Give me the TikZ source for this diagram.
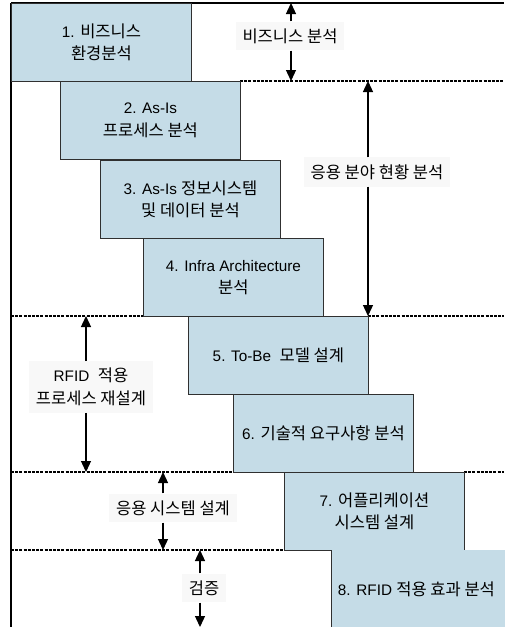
\documentclass[tikz,border=0pt]{standalone}
\usepackage{fontspec}
\setmainfont{Liberation Sans}
\newfontfamily\kr[Scale=1.08]{Noto Sans CJK KR}
\usetikzlibrary{arrows.meta}
\definecolor{stageblue}{HTML}{C5DCE7}
\definecolor{stageline}{HTML}{303030}
\definecolor{labelbg}{HTML}{F8F8F8}

\begin{document}
\begin{tikzpicture}[x=1pt, y=-1pt,
    stagebox/.style={draw=stageline, fill=stageblue, line width=0.9pt,
      minimum width=180pt, minimum height=78pt, inner sep=0pt,
      anchor=north west, align=center, font=\fontsize{15.3}{22.5}\selectfont},
    phaselabel/.style={fill=labelbg, inner xsep=7pt, inner ysep=7pt,
      align=center, font=\fontsize{15.3}{22.5}\selectfont},
    phasearrow/.style={-{Triangle[length=11pt, width=10pt]}, line width=1.3pt},
    sepline/.style={line width=1.3pt, dash pattern=on 3pt off 1.2pt}
]
  \useasboundingbox (0,0) rectangle (504,627);

  % Rahmen
  \coordinate (frameTL) at (11,3);
  \coordinate (frameTR) at (504,3);
  \coordinate (frameBL) at (11,627);
  \coordinate (frameR) at (504,0);

  % Phasengrenzen (gestrichelt)
  \draw[sepline] (240,81) -- (frameR |- 0,81);
  \draw[sepline] (frameTL |- 0,316) -- (143,316);
  \draw[sepline] (368,316) -- (frameR |- 0,316);
  \draw[sepline] (frameTL |- 0,472) -- (233,472);
  \draw[sepline] (464,472) -- (frameR |- 0,472);
  \draw[sepline] (frameTL |- 0,550) -- (284,550);
  \draw[sepline, gray!60, line width=0.8pt] (464,550) -- (frameR |- 0,550);

  \draw[line width=1.6pt] (frameTL) -- (frameTR);
  \draw[line width=1.6pt] (frameTL) -- (frameBL);

  % Arbeitsschritte
  \node[stagebox] (b1) at (11,3)    {1. {\kr 비즈니스}\\{\kr 환경분석}};
  \node[stagebox] (b2) at (60,81)   {2. As-Is\\{\kr 프로세스 분석}};
  \node[stagebox] (b3) at (100,160) {3. As-Is {\kr 정보시스템}\\{\kr 및 데이터 분석}};
  \node[stagebox] (b4) at (143,238) {4. Infra Architecture\\{\kr 분석}};
  \node[stagebox] (b5) at (188,316) {5. To-Be\ \ {\kr 모델 설계}};
  \node[stagebox] (b6) at (233,394) {6. {\kr 기술적 요구사항 분석}};
  \node[stagebox] (b7) at (284,472) {7. {\kr 어플리케이션}\\{\kr 시스템 설계}};
  \node[stagebox, draw=none] (b8) at (331,550) {\hspace*{-10pt}8. RFID {\kr 적용 효과 분석}};
  \draw[stageline, line width=0.9pt] (b8.north west) -- (b8.south west);

  % Phasen (Pfeile mit Beschriftung)
  \coordinate (bizTop) at (291,3);
  \coordinate (bizBot) at (291,81);
  \coordinate (appTop) at (368,81);
  \coordinate (appBot) at (368,316);
  \coordinate (rfidTop) at (86,316);
  \coordinate (rfidBot) at (86,472);
  \coordinate (sysTop) at (163,472);
  \coordinate (sysBot) at (163,550);
  \coordinate (verTop) at (200,550);
  \coordinate (verBot) at (200,627);

  \node[phaselabel] (lbiz) at (290,36) {{\kr 비즈니스 분석}};
  \node[phaselabel] (lapp) at (377,172) {{\kr 응용 분야 현황 분석}};
  \node[phaselabel] (lrfid) at (91,387) {RFID\ \ {\kr 적용}\\{\kr 프로세스 재설계}};
  \node[phaselabel] (lsys) at (173,508) {{\kr 응용 시스템 설계}};
  \node[phaselabel] (lver) at (204,588) {{\kr 검증}};

  \draw[phasearrow] (bizTop |- lbiz.north) -- (bizTop);
  \draw[phasearrow] (bizBot |- lbiz.south) -- (bizBot);
  \draw[phasearrow] (appTop |- lapp.north) -- (appTop);
  \draw[phasearrow] (appBot |- lapp.south) -- (appBot);
  \draw[phasearrow] (rfidTop |- lrfid.north) -- (rfidTop);
  \draw[phasearrow] (rfidBot |- lrfid.south) -- (rfidBot);
  \draw[phasearrow] (sysTop |- lsys.north) -- (sysTop);
  \draw[phasearrow] (sysBot |- lsys.south) -- (sysBot);
  \draw[phasearrow] (verTop |- lver.north) -- (verTop);
  \draw[phasearrow] (verBot |- lver.south) -- (verBot);

\end{tikzpicture}
\end{document}
